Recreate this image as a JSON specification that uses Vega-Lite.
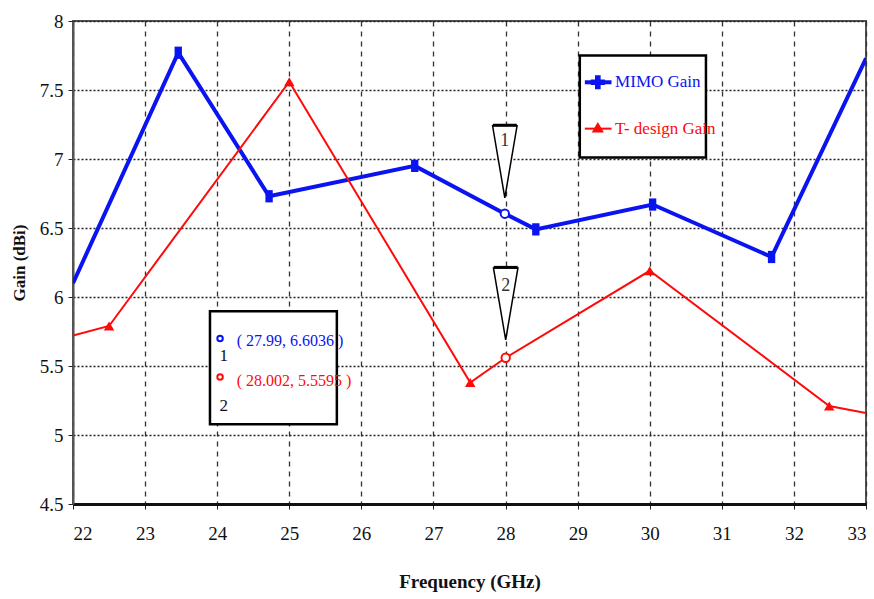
{
  "$schema": "https://vega.github.io/schema/vega-lite/v6.json",
  "autosize": "none",
  "width": 793,
  "height": 483,
  "padding": {"left": 73, "top": 21, "right": 8, "bottom": 95},
  "background": "white",
  "config": {
    "view": {"stroke": "#555", "strokeWidth": 2},
    "font": "Liberation Serif",
    "axis": {"labelFont": "Liberation Serif", "titleFont": "Liberation Serif", "labelColor": "#111", "titleColor": "#111"}
  },
  "datasets": {
    "series": [
      {"freq": 22, "gain": 6.1, "series": "MIMO Gain"},
      {"freq": 23.46, "gain": 7.77, "series": "MIMO Gain"},
      {"freq": 24.72, "gain": 6.73, "series": "MIMO Gain"},
      {"freq": 26.74, "gain": 6.95, "series": "MIMO Gain"},
      {"freq": 27.99, "gain": 6.6036, "series": "MIMO Gain"},
      {"freq": 28.42, "gain": 6.49, "series": "MIMO Gain"},
      {"freq": 30.04, "gain": 6.67, "series": "MIMO Gain"},
      {"freq": 31.69, "gain": 6.29, "series": "MIMO Gain"},
      {"freq": 33, "gain": 7.73, "series": "MIMO Gain"},
      {"freq": 22, "gain": 5.72, "series": "T- design Gain"},
      {"freq": 22.5, "gain": 5.79, "series": "T- design Gain"},
      {"freq": 25.0, "gain": 7.56, "series": "T- design Gain"},
      {"freq": 27.51, "gain": 5.38, "series": "T- design Gain"},
      {"freq": 28.002, "gain": 5.5595, "series": "T- design Gain"},
      {"freq": 30.0, "gain": 6.19, "series": "T- design Gain"},
      {"freq": 32.49, "gain": 5.21, "series": "T- design Gain"},
      {"freq": 33, "gain": 5.16, "series": "T- design Gain"}
    ],
    "markers": [
      {"freq": 23.46, "gain": 7.77, "series": "MIMO Gain"},
      {"freq": 24.72, "gain": 6.73, "series": "MIMO Gain"},
      {"freq": 26.74, "gain": 6.95, "series": "MIMO Gain"},
      {"freq": 28.42, "gain": 6.49, "series": "MIMO Gain"},
      {"freq": 30.04, "gain": 6.67, "series": "MIMO Gain"},
      {"freq": 31.69, "gain": 6.29, "series": "MIMO Gain"},
      {"freq": 22.5, "gain": 5.79, "series": "T- design Gain"},
      {"freq": 25.0, "gain": 7.56, "series": "T- design Gain"},
      {"freq": 27.51, "gain": 5.38, "series": "T- design Gain"},
      {"freq": 30.0, "gain": 6.19, "series": "T- design Gain"},
      {"freq": 32.49, "gain": 5.21, "series": "T- design Gain"}
    ],
    "cursors": [
      {"freq": 27.99, "gain": 6.6036, "series": "MIMO Gain", "id": "1"},
      {"freq": 28.002, "gain": 5.5595, "series": "T- design Gain", "id": "2"}
    ],
    "one": [{}]
  },
  "encoding": {
    "x": {"type": "quantitative", "scale": {"domain": [22, 33], "nice": false, "zero": false}},
    "y": {"type": "quantitative", "scale": {"domain": [4.5, 8], "nice": false, "zero": false}}
  },
  "layer": [
    {
      "data": {"name": "series"},
      "mark": {"type": "line", "clip": true},
      "encoding": {
        "x": {"field": "freq", "type": "quantitative",
          "axis": {"values": [22,23,24,25,26,27,28,29,30,31,32,33], "format": "d", "title": "Frequency (GHz)", "titleFont": "Liberation Serif", "labelFont": "Liberation Serif", "titleFontSize": 19, "titleFontWeight": "bold", "titlePadding": 29, "labelFontSize": 19, "labelPadding": 15, "tickSize": 5, "tickColor": "#222", "domainColor": "#111", "domainWidth": 3, "grid": true, "gridDash": [5, 5], "gridColor": "#333", "gridWidth": 1.3}},
        "y": {"field": "gain", "type": "quantitative",
          "axis": {"values": [4.5,5,5.5,6,6.5,7,7.5,8], "format": "~g", "title": "Gain (dBi)", "titleFont": "Liberation Serif", "labelFont": "Liberation Serif", "titleFontSize": 17, "titleFontWeight": "bold", "titlePadding": 11, "labelFontSize": 19, "labelPadding": 5, "tickSize": 5, "tickColor": "#222", "domainColor": "#555", "domainWidth": 2, "grid": true, "gridDash": [2, 2], "gridColor": "#222", "gridWidth": 1.6}},
        "color": {"field": "series", "type": "nominal", "scale": {"domain": ["MIMO Gain", "T- design Gain"], "range": ["#0a14f0", "#ff0a0a"]}, "legend": null},
        "strokeWidth": {"field": "series", "type": "nominal", "scale": {"domain": ["MIMO Gain", "T- design Gain"], "range": [4, 2]}, "legend": null}
      }
    },
    {
      "data": {"name": "markers"},
      "mark": {"type": "point", "filled": true, "opacity": 1},
      "encoding": {
        "x": {"field": "freq", "type": "quantitative"},
        "y": {"field": "gain", "type": "quantitative"},
        "color": {"field": "series", "type": "nominal", "legend": null},
        "shape": {"field": "series", "type": "nominal", "scale": {"domain": ["MIMO Gain", "T- design Gain"], "range": ["M-0.6,-1H0.6V1H-0.6Z", "triangle-up"]}, "legend": null},
        "size": {"field": "series", "type": "nominal", "scale": {"domain": ["MIMO Gain", "T- design Gain"], "range": [150, 110]}, "legend": null}
      }
    },
    {
      "data": {"name": "cursors"},
      "mark": {"type": "point", "shape": "circle", "size": 70, "fill": "white", "filled": false, "strokeWidth": 2, "opacity": 1},
      "encoding": {
        "x": {"field": "freq", "type": "quantitative"},
        "y": {"field": "gain", "type": "quantitative"},
        "color": {"field": "series", "type": "nominal", "legend": null}
      }
    },
    {
      "data": {"values": [{"id": "1", "freq": 27.99, "gain": 6.98}, {"id": "2", "freq": 28.002, "gain": 5.95}]},
      "mark": {"type": "point", "shape": "M-0.34,-1H0.34L0,1Z", "size": 5184, "fill": "white", "stroke": "black", "strokeWidth": 1.5, "filled": true, "opacity": 1},
      "encoding": {
        "x": {"field": "freq", "type": "quantitative"},
        "y": {"field": "gain", "type": "quantitative"}
      }
    },
    {
      "data": {"values": [{"id": "1", "freq": 27.99, "gain": 7.245}, {"id": "2", "freq": 28.002, "gain": 6.215}]},
      "mark": {"type": "point", "shape": "M-1,-0.12H1V0.12H-1Z", "size": 576, "fill": "black", "filled": true, "opacity": 1},
      "encoding": {
        "x": {"field": "freq", "type": "quantitative"},
        "y": {"field": "gain", "type": "quantitative"}
      }
    },
    {
      "data": {"values": [{"id": "1", "freq": 27.99, "gain": 7.13}, {"id": "2", "freq": 28.002, "gain": 6.08}]},
      "mark": {"type": "text", "font": "Liberation Serif", "fontSize": 18, "color": "#333"},
      "encoding": {
        "x": {"field": "freq", "type": "quantitative"},
        "y": {"field": "gain", "type": "quantitative"},
        "text": {"field": "id"}
      }
    },
    {
      "data": {"name": "one"},
      "mark": {"type": "rect", "fill": "white", "stroke": "black", "strokeWidth": 2.5},
      "encoding": {
        "x": {"datum": 29.03}, "x2": {"datum": 30.78},
        "y": {"datum": 7.75}, "y2": {"datum": 7.01}
      }
    },
    {
      "data": {"name": "one"},
      "mark": {"type": "rule", "color": "#0a14f0", "strokeWidth": 4},
      "encoding": {"x": {"datum": 29.1}, "x2": {"datum": 29.47}, "y": {"datum": 7.556}}
    },
    {
      "data": {"name": "one"},
      "mark": {"type": "point", "shape": "cross", "size": 200, "filled": true, "color": "#0a14f0", "opacity": 1},
      "encoding": {"x": {"datum": 29.28}, "y": {"datum": 7.556}}
    },
    {
      "data": {"name": "one"},
      "mark": {"type": "rule", "color": "#ff0a0a", "strokeWidth": 2},
      "encoding": {"x": {"datum": 29.1}, "x2": {"datum": 29.47}, "y": {"datum": 7.22}}
    },
    {
      "data": {"name": "one"},
      "mark": {"type": "point", "shape": "triangle-up", "size": 150, "filled": true, "color": "#ff0a0a", "opacity": 1},
      "encoding": {"x": {"datum": 29.28}, "y": {"datum": 7.23}}
    },
    {
      "data": {"name": "one"},
      "mark": {"type": "text", "align": "left", "font": "Liberation Serif", "fontSize": 17, "color": "#0a14f0"},
      "encoding": {"x": {"datum": 29.52}, "y": {"datum": 7.556}, "text": {"value": "MIMO Gain"}}
    },
    {
      "data": {"name": "one"},
      "mark": {"type": "text", "align": "left", "font": "Liberation Serif", "fontSize": 17, "color": "#ff0a0a"},
      "encoding": {"x": {"datum": 29.52}, "y": {"datum": 7.22}, "text": {"value": "T- design Gain"}}
    },
    {
      "data": {"name": "one"},
      "mark": {"type": "rect", "fill": "white", "stroke": "black", "strokeWidth": 2.5},
      "encoding": {
        "x": {"datum": 23.9}, "x2": {"datum": 25.66},
        "y": {"datum": 5.896}, "y2": {"datum": 5.078}
      }
    },
    {
      "data": {"name": "one"},
      "mark": {"type": "point", "shape": "circle", "size": 30, "fill": "white", "filled": false, "strokeWidth": 2, "color": "#0a14f0", "opacity": 1},
      "encoding": {"x": {"datum": 24.04}, "y": {"datum": 5.7}}
    },
    {
      "data": {"name": "one"},
      "mark": {"type": "point", "shape": "circle", "size": 30, "fill": "white", "filled": false, "strokeWidth": 2, "color": "#ff0a0a", "opacity": 1},
      "encoding": {"x": {"datum": 24.04}, "y": {"datum": 5.42}}
    },
    {
      "data": {"name": "one"},
      "mark": {"type": "text", "font": "Liberation Serif", "fontSize": 17, "color": "#111"},
      "encoding": {"x": {"datum": 24.09}, "y": {"datum": 5.57}, "text": {"value": "1"}}
    },
    {
      "data": {"name": "one"},
      "mark": {"type": "text", "font": "Liberation Serif", "fontSize": 17, "color": "#111"},
      "encoding": {"x": {"datum": 24.09}, "y": {"datum": 5.21}, "text": {"value": "2"}}
    },
    {
      "data": {"name": "one"},
      "mark": {"type": "text", "align": "left", "font": "Liberation Serif", "fontSize": 16, "color": "#0a14f0"},
      "encoding": {"x": {"datum": 24.27}, "y": {"datum": 5.68}, "text": {"value": "( 27.99, 6.6036 )"}}
    },
    {
      "data": {"name": "one"},
      "mark": {"type": "text", "align": "left", "font": "Liberation Serif", "fontSize": 16, "color": "#ff0a0a"},
      "encoding": {"x": {"datum": 24.27}, "y": {"datum": 5.39}, "text": {"value": "( 28.002, 5.5595 )"}}
    }
  ]
}
